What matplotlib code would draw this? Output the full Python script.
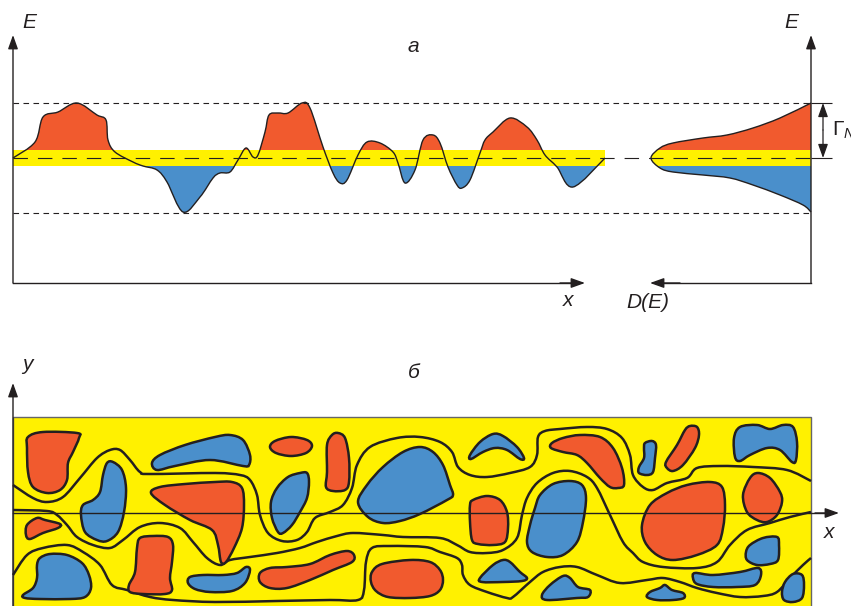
import numpy as np
import matplotlib
matplotlib.use("Agg")
import matplotlib.pyplot as plt
from matplotlib.path import Path
from matplotlib.patches import PathPatch, Rectangle

plt.rcParams['font.family'] = ['Liberation Sans', 'DejaVu Sans']
plt.rcParams['mathtext.fontset'] = 'custom'
plt.rcParams['mathtext.rm'] = 'Liberation Sans'
plt.rcParams['mathtext.it'] = 'Liberation Sans:italic'

RED = '#f15a2e'
BLUE = '#4a8fcb'
YELLOW = '#fff100'
INK = '#231f20'

# --- panel a: potential profile E(x) (image pixel units) ---
curve_a = [(13, 158), (35, 142), (43, 117), (58, 112), (77, 103), (97, 115), (106, 120),
           (108, 140), (115, 152), (133, 162), (143, 166), (157, 170), (167, 182), (183, 212),
           (200, 197), (213, 178), (220, 173), (230, 172), (238, 160), (246, 148), (253, 157),
           (258, 155), (265, 132), (269, 115), (278, 113), (288, 113), (302, 103), (310, 108),
           (323, 147), (333, 173), (340, 183), (347, 180), (358, 155), (367, 142), (380, 143),
           (393, 152), (398, 163), (405, 183), (415, 170), (423, 140), (433, 135), (440, 143),
           (448, 167), (457, 185), (462, 188), (470, 180), (480, 153), (485, 140), (493, 132),
           (510, 118), (527, 127), (537, 140), (545, 155), (557, 167), (573, 187), (605, 158)]

# density of states D(E), from the top of the band to the bottom
dos_curve = [(811, 103), (780, 118), (753, 128), (727, 135), (703, 138), (673, 143), (660, 148),
             (651, 158), (660, 168), (673, 172), (703, 175), (730, 178), (753, 185), (780, 195),
             (803, 205), (811, 212)]

levels_E = [103, 158, 213]      # upper, middle, lower energy levels
band_E = [150, 166]             # yellow band edges

# --- panel b: map of puddles ---
red_blobs = [
    [(28, 437), (43, 432), (77, 433), (79, 438), (73, 452), (68, 463), (67, 480), (60, 490),
     (47, 493), (33, 487), (28, 472), (27, 448)],
    [(27, 525), (37, 518), (45, 520), (60, 524), (58, 528), (43, 533), (30, 539), (26, 535)],
    [(140, 538), (153, 536), (168, 537), (173, 545), (172, 562), (170, 578), (172, 590),
     (165, 594), (143, 594), (130, 592), (129, 585), (135, 572), (137, 548)],
    [(270, 447), (275, 441), (291, 437), (307, 440), (312, 446), (306, 453), (291, 456), (276, 453)],
    [(332, 435), (338, 433), (345, 438), (349, 458), (349, 482), (345, 490), (333, 491),
     (326, 487), (327, 472), (327, 445)],
    [(151, 493), (160, 487), (185, 484), (215, 482), (232, 482), (242, 488), (244, 505),
     (242, 528), (234, 548), (226, 562), (221, 562), (218, 545), (212, 530), (190, 520), (165, 505)],
    [(260, 573), (270, 568), (287, 567), (310, 564), (330, 555), (347, 551), (354, 555),
     (352, 562), (333, 570), (310, 580), (287, 588), (270, 588), (260, 582)],
    [(372, 572), (382, 564), (410, 560), (430, 562), (440, 570), (443, 580), (440, 590),
     (430, 596), (410, 598), (388, 597), (376, 591), (371, 582)],
    [(552, 443), (563, 438), (580, 435), (600, 437), (613, 448), (622, 468), (624, 485),
     (618, 488), (610, 487), (600, 478), (587, 463), (577, 455), (563, 452), (551, 448)],
    [(473, 500), (487, 496), (500, 500), (507, 512), (508, 528), (505, 542), (493, 545),
     (478, 544), (472, 540), (470, 522), (470, 505)],
    [(690, 426), (697, 427), (699, 435), (695, 448), (683, 465), (673, 471), (667, 468),
     (666, 462), (677, 445), (685, 430)],
    [(642, 525), (650, 505), (667, 493), (687, 485), (710, 482), (722, 487), (725, 505),
     (723, 528), (717, 545), (697, 555), (673, 560), (657, 555), (645, 542)],
    [(750, 478), (758, 473), (770, 478), (780, 492), (782, 502), (777, 515), (767, 522),
     (757, 520), (747, 512), (743, 495)],
]

blue_blobs = [
    [(107, 463), (113, 462), (122, 470), (126, 488), (124, 512), (118, 532), (107, 541),
     (97, 540), (85, 532), (81, 515), (83, 505), (93, 500), (100, 492), (103, 475)],
    [(40, 558), (50, 554), (67, 555), (82, 563), (89, 575), (91, 588), (85, 597), (70, 599),
     (40, 599), (25, 598), (23, 595), (33, 588), (37, 578), (37, 565)],
    [(152, 463), (160, 455), (185, 445), (215, 437), (230, 435), (243, 440), (250, 455),
     (249, 465), (243, 466), (210, 460), (175, 466), (157, 470)],
    [(300, 473), (307, 473), (309, 482), (307, 498), (300, 512), (292, 525), (283, 533),
     (278, 532), (272, 518), (271, 502), (277, 488), (288, 477)],
    [(358, 502), (367, 485), (383, 467), (403, 452), (420, 447), (433, 452), (443, 465),
     (450, 485), (453, 495), (447, 500), (420, 514), (400, 521), (383, 523), (368, 517)],
    [(190, 577), (203, 575), (223, 575), (237, 573), (246, 567), (250, 570), (245, 583),
     (232, 591), (210, 592), (195, 589), (188, 583)],
    [(470, 455), (480, 442), (493, 434), (503, 436), (517, 447), (524, 458), (520, 459),
     (507, 450), (495, 448), (483, 452), (471, 459)],
    [(540, 495), (553, 484), (570, 481), (582, 485), (586, 498), (583, 522), (577, 542),
     (563, 555), (547, 557), (532, 552), (527, 542), (530, 525), (535, 508)],
    [(480, 578), (493, 565), (503, 560), (510, 562), (520, 572), (527, 578), (522, 581),
     (503, 582), (482, 582)],
    [(542, 595), (550, 585), (563, 576), (570, 578), (578, 587), (590, 590), (588, 597),
     (577, 598), (547, 600)],
    [(645, 443), (652, 441), (656, 445), (655, 458), (653, 472), (647, 475), (639, 473),
     (639, 467), (644, 458), (644, 448)],
    [(740, 427), (757, 425), (770, 429), (783, 425), (793, 427), (797, 442), (796, 460),
     (792, 462), (780, 450), (767, 448), (750, 455), (740, 461), (735, 457), (734, 438)],
    [(750, 545), (763, 538), (777, 537), (779, 545), (778, 560), (770, 564), (757, 565),
     (747, 560), (746, 552)],
    [(695, 573), (713, 575), (740, 572), (758, 568), (761, 575), (755, 585), (737, 587),
     (713, 587), (697, 584), (693, 578)],
    [(650, 592), (660, 588), (665, 585), (672, 590), (683, 593), (684, 598), (673, 600),
     (657, 600), (647, 597)],
    [(793, 574), (802, 575), (804, 585), (802, 598), (793, 602), (784, 600), (782, 592), (785, 582)],
]

wave_lines = [
    [(13, 485), (33, 498), (47, 502), (63, 497), (80, 478), (97, 458), (110, 450), (120, 450),
     (130, 460), (140, 472), (150, 474), (215, 473), (240, 475), (250, 480), (257, 495),
     (260, 515), (268, 533), (282, 541), (297, 540), (307, 532), (315, 518), (330, 512),
     (343, 505), (352, 488), (357, 465), (370, 447), (397, 438), (420, 437), (440, 442),
     (452, 452), (458, 467), (470, 475), (487, 477), (510, 473), (530, 467), (537, 455),
     (538, 437), (545, 431), (560, 429), (587, 427), (607, 429), (622, 438), (630, 455),
     (633, 475), (643, 487), (653, 490), (667, 483), (687, 478), (697, 468), (720, 466),
     (753, 467), (787, 470), (811, 481)],
    [(13, 510), (47, 511), (57, 515), (67, 525), (77, 537), (93, 545), (110, 548), (123, 540),
     (140, 527), (160, 523), (180, 528), (193, 542), (207, 558), (220, 565), (230, 560),
     (250, 557), (277, 553), (300, 548), (317, 542), (337, 536), (353, 533), (383, 535),
     (403, 537), (440, 538), (457, 545), (470, 552), (487, 553), (503, 550), (517, 538),
     (522, 515), (527, 498), (537, 483), (553, 473), (570, 471), (587, 477), (597, 488),
     (610, 515), (623, 542), (633, 553), (643, 562), (663, 567), (697, 568), (717, 562),
     (730, 545), (747, 530), (770, 523), (790, 517), (811, 512)],
    [(13, 575), (27, 555), (43, 548), (67, 545), (83, 552), (100, 565), (112, 585),
     (127, 590), (150, 597), (173, 600), (215, 602), (277, 601), (330, 600), (358, 600),
     (364, 590), (366, 562), (372, 548), (390, 546), (425, 547), (440, 552), (457, 558),
     (462, 565), (463, 575), (470, 585), (487, 592), (507, 598), (513, 597), (530, 582),
     (543, 572), (560, 567), (577, 567), (597, 575), (620, 583), (647, 580), (663, 578),
     (680, 582), (697, 588), (717, 593), (740, 597), (763, 596), (777, 592), (790, 578),
     (803, 565), (811, 558)],
]


def smooth_path(points, closed=False):
    # Catmull-Rom through the points, written as cubic Bezier segments
    p = np.asarray(points, float)
    n = len(p)
    verts = [p[0]]
    codes = [Path.MOVETO]
    nseg = n if closed else n - 1
    for i in range(nseg):
        if closed:
            p0, p1, p2, p3 = p[i - 1], p[i], p[(i + 1) % n], p[(i + 2) % n]
        else:
            p0 = p[max(i - 1, 0)]
            p1, p2 = p[i], p[i + 1]
            p3 = p[min(i + 2, n - 1)]
        verts += [p1 + (p2 - p0) / 6, p2 - (p3 - p1) / 6, p2]
        codes += [Path.CURVE4] * 3
    if closed:
        verts.append(p[0])
        codes.append(Path.CLOSEPOLY)
    return verts, codes


def clipped_fill(ax, verts, codes, color, y0, y1):
    patch = PathPatch(Path(verts, codes), facecolor=color, edgecolor='none', zorder=2)
    ax.add_patch(patch)
    patch.set_clip_path(Rectangle((0, y0), 851, y1 - y0, transform=ax.transData))


def arrow(ax, start, end, style='-|>', lw=1.0):
    ax.annotate('', xy=end, xytext=start,
                arrowprops=dict(arrowstyle=style + ',head_length=0.7,head_width=0.25',
                                color=INK, lw=lw, shrinkA=0, shrinkB=0, mutation_scale=12),
                zorder=6)


fig = plt.figure(figsize=(8.51, 6.06), dpi=100)
ax = fig.add_axes([0, 0, 1, 1])
ax.set_xlim(0, 851)
ax.set_ylim(606, 0)
ax.axis('off')

# ---------- panel a ----------
v, c = smooth_path(curve_a)
x_end = curve_a[-1][0]
region_v = v + [(x_end, levels_E[1]), (curve_a[0][0], levels_E[1]), v[0]]
region_c = c + [Path.LINETO, Path.LINETO, Path.CLOSEPOLY]
clipped_fill(ax, region_v, region_c, RED, 0, band_E[0])
clipped_fill(ax, region_v, region_c, BLUE, band_E[1], 300)
ax.add_patch(Rectangle((13, band_E[0]), x_end - 13, band_E[1] - band_E[0],
                       facecolor=YELLOW, edgecolor='none', zorder=3))
ax.add_patch(PathPatch(Path(v, c), facecolor='none', edgecolor=INK, lw=1.0, zorder=5))

dv, dc = smooth_path(dos_curve)
dos_v = dv + [dos_curve[0]]
dos_c = dc + [Path.CLOSEPOLY]
clipped_fill(ax, dos_v, dos_c, RED, 0, band_E[0])
clipped_fill(ax, dos_v, dos_c, YELLOW, band_E[0], band_E[1])
clipped_fill(ax, dos_v, dos_c, BLUE, band_E[1], 300)
ax.add_patch(PathPatch(Path(dv, dc), facecolor='none', edgecolor=INK, lw=1.0, zorder=5))

ax.hlines([levels_E[0], levels_E[2]], 13, 811, colors=INK, lw=0.8,
          linestyles=[(0, (5, 4))], zorder=4)
ax.hlines(levels_E[1], 13, 811, colors=INK, lw=0.8, linestyles=[(0, (13, 9))], zorder=4)
ax.hlines([levels_E[0], levels_E[1]], 811, 832, colors=INK, lw=0.8, zorder=4)

arrow(ax, (13, 283), (13, 35))
ax.plot([13, 575], [283, 283], color=INK, lw=1.0, zorder=6)
arrow(ax, (560, 283), (585, 283))
arrow(ax, (811, 283), (811, 35))
ax.plot([660, 811], [283, 283], color=INK, lw=1.0, zorder=6)
arrow(ax, (680, 283), (650, 283))
arrow(ax, (823, 130), (823, levels_E[0]), lw=0.9)
arrow(ax, (823, 130), (823, levels_E[1]), lw=0.9)

txt = dict(color=INK, fontsize=15, style='italic', ha='center', va='center')
ax.text(29, 22, 'E', **txt)
ax.text(791, 22, 'E', **txt)
ax.text(413, 47, 'а', **txt)
ax.text(568, 301, 'x', **txt)
ax.text(648, 302, 'D(E)', **txt)
ax.text(832, 130, r'$\Gamma_N$', color=INK, fontsize=15, ha='left', va='center')

# ---------- panel b ----------
ax.add_patch(Rectangle((13, 417), 798, 200, facecolor=YELLOW, edgecolor='#666666',
                       lw=1.0, zorder=1))
for line in wave_lines:
    lv, lc = smooth_path(line)
    ax.add_patch(PathPatch(Path(lv, lc), facecolor='none', edgecolor=INK, lw=1.8, zorder=3))
for blobs, color in ((red_blobs, RED), (blue_blobs, BLUE)):
    for blob in blobs:
        bv, bc = smooth_path(blob, closed=True)
        ax.add_patch(PathPatch(Path(bv, bc), facecolor=color, edgecolor=INK, lw=1.8, zorder=4))

ax.plot([13, 825], [513, 513], color=INK, lw=1.0, zorder=6)
arrow(ax, (815, 513), (839, 513))
arrow(ax, (13, 606), (13, 383))
ax.text(27, 364, 'y', **txt)
ax.text(414, 373, 'б', **txt)
ax.text(829, 533, 'x', **txt)

fig.savefig('out.png', dpi=100)
